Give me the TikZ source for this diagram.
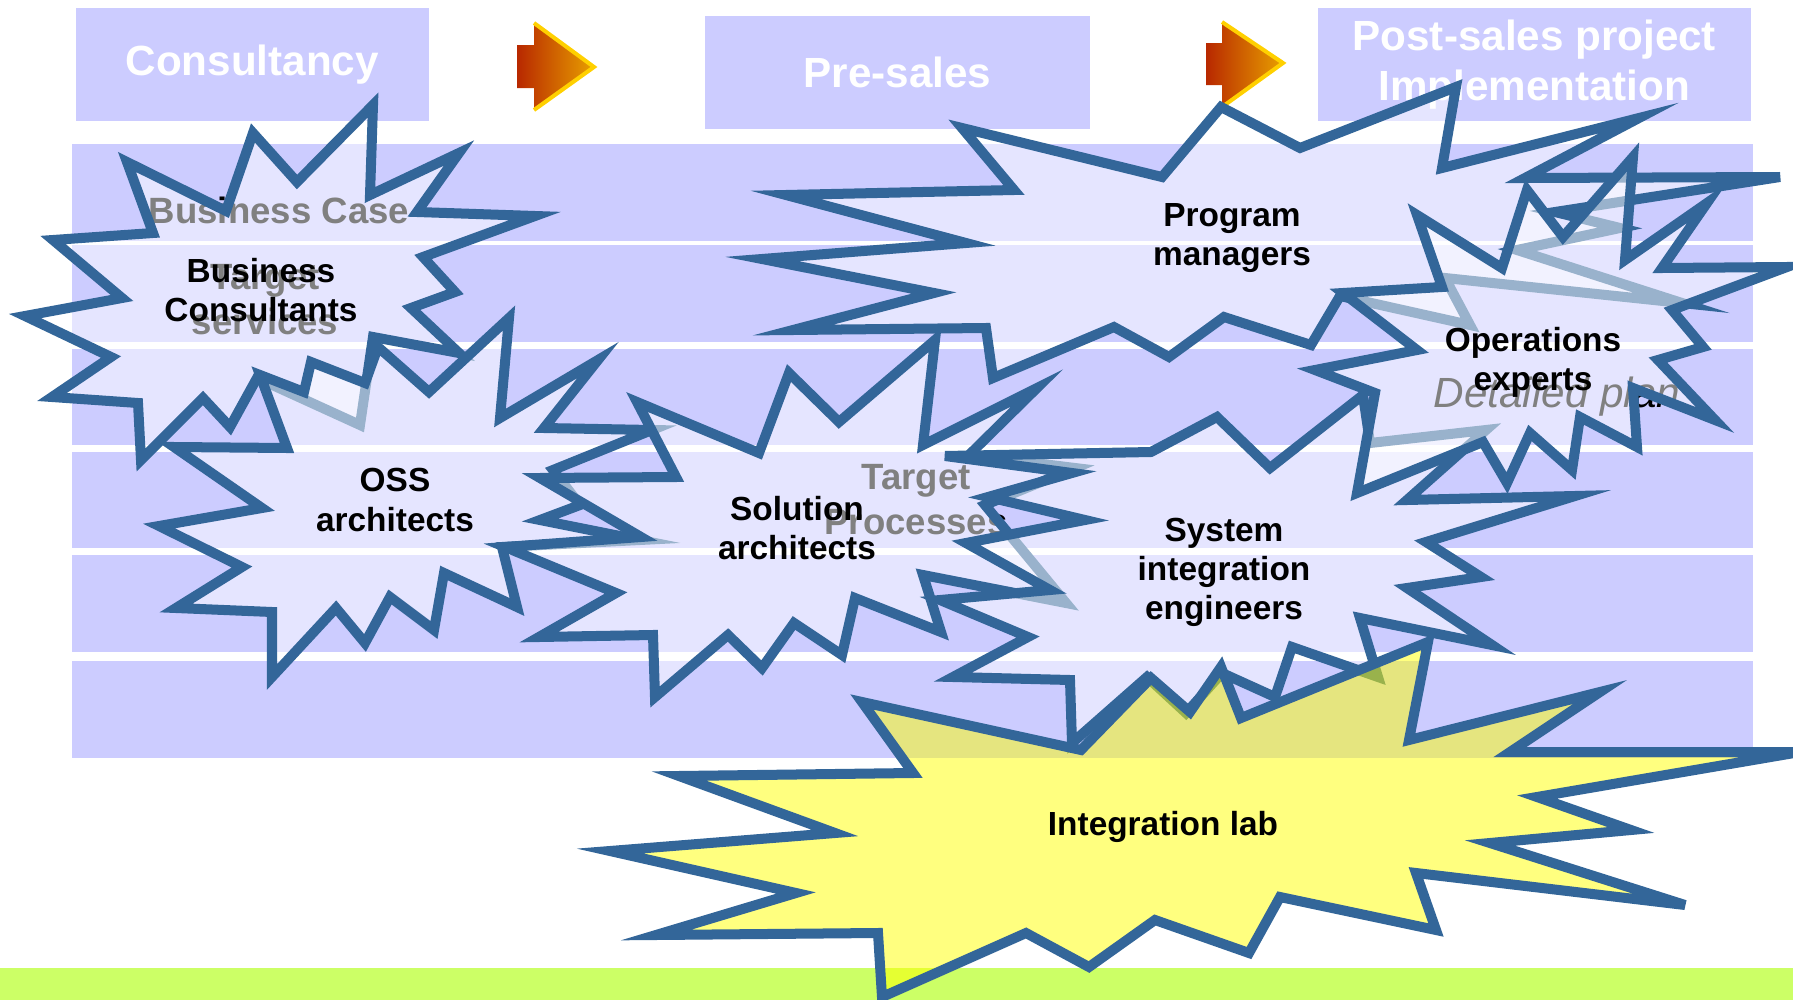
\documentclass[tikz,border=0pt]{standalone}
\usepackage{fontspec}
\setmainfont{Liberation Sans}
\usepackage{xcolor}
\definecolor{bandblue}{HTML}{CCCCFF}
\definecolor{starline}{HTML}{336699}
\definecolor{limeband}{HTML}{CCFF66}
\definecolor{notegrey}{HTML}{000000}
\definecolor{labyellow}{HTML}{FFFF00}
\definecolor{arrowred}{HTML}{B82800}
\definecolor{arrowgold}{HTML}{E8A000}
\definecolor{arrowrim}{HTML}{FFD000}

\begin{document}
\begin{tikzpicture}
		[x=0.01cm, y=-0.01cm,
		band/.style={fill=bandblue},
		phasebox/.style={fill=bandblue, text=white, font=\fontsize{12}{14.2}\selectfont\bfseries, align=center, anchor=north west, inner sep=0pt},
		burst/.style={draw=starline, line width=0.1cm, line join=miter, fill=white, fill opacity=0.5},
		labburst/.style={burst, fill=labyellow},
		role/.style={font=\fontsize{9.5}{11.1}\selectfont\bfseries, align=center, inner sep=0pt},
		bgnote/.style={font=\fontsize{10.4}{12.8}\selectfont\bfseries, text=notegrey, align=center, inner sep=0pt},
		phasearrow/.style={left color=arrowred, right color=arrowgold}]
		\useasboundingbox (0,0) rectangle (1793,1000);
		
		% bands %
		\fill[band] (72,144) rectangle (1753,241);
		\fill[band] (72,245) rectangle (1753,342);
		\fill[band] (72,349) rectangle (1753,445);
		\fill[band] (72,452) rectangle (1753,548);
		\fill[band] (72,555) rectangle (1753,652);
		\fill[band] (72,661) rectangle (1753,758);
		\fill[limeband] (0,968) rectangle (1793,1000);
		
		% phases %
		\node[phasebox, minimum width=3.53cm, minimum height=1.13cm] (consult) at (75,7) {Consultancy};
		\node[phasebox, minimum width=3.85cm, minimum height=1.13cm] (presales) at (704,15) {Pre-sales};
		\node[phasebox, minimum width=4.33cm, minimum height=1.13cm] (postsales) at (1317,7) {Post-sales project\\Implementation};
		
		% phase arrows %
		\shade[phasearrow] (517,45) -- (534,45) -- (534,23) -- (594,67) -- (534,110) -- (534,88) -- (517,88) -- cycle;
		\draw[arrowrim, line width=0.04cm] (534,23) -- (594,67) -- (534,110);
		\shade[phasearrow] (1206,43) -- (1222,43) -- (1222,22) -- (1283,63) -- (1222,107) -- (1222,85) -- (1206,85) -- cycle;
		\draw[arrowrim, line width=0.04cm] (1222,22) -- (1283,63) -- (1222,107);
		
		% notes under the bursts %
		\node[bgnote] (bizcase) at (279,210) {Business Case};
		\node[bgnote] (tgtserv) at (265,300) {Target\\services};
		\node[bgnote] (tgtproc) at (916,500) {Target\\Processes};
		\node[bgnote, font=\fontsize{12}{14}\selectfont\itshape] (detplan) at (1557,397) {Detailed plan};
		
		% bursts %
		\draw[burst] (373,105) -- (370,195) -- (459,153) -- (417,212) -- (535,216) -- (423,257) -- (455,292) -- (411,308) -- (459,353) -- (373,337) -- (360,425) -- (257,378) -- (230,427) -- (203,398) -- (141,460) -- (138,403) -- (52,397) -- (111,357) -- (25,316) -- (122,298) -- (53,240) -- (153,233) -- (127,162) -- (226,211) -- (253,133) -- (297,182) -- cycle;
		\draw[burst] (174,447) -- (287,448) -- (260,375) -- (304,392) -- (311,362) -- (365,383) -- (378,347) -- (429,392) -- (509,318) -- (500,418) -- (598,360) -- (544,428) -- (652,430) -- (553,470) -- (580,505) -- (540,520) -- (640,540) -- (502,547) -- (517,607) -- (444,573) -- (434,630) -- (390,597) -- (365,643) -- (336,608) -- (272,677) -- (272,612) -- (176,608) -- (242,567) -- (159,526) -- (262,508) -- cycle;
		\draw[burst] (637,402) -- (759,453) -- (789,373) -- (839,422) -- (935,340) -- (923,445) -- (1037,388) -- (969,455) -- (1075,468) -- (985,505) -- (1066,603) -- (923,575) -- (941,632) -- (855,598) -- (842,655) -- (794,623) -- (762,668) -- (728,635) -- (655,697) -- (653,635) -- (539,637) -- (616,593) -- (505,547) -- (641,537) -- (540,478) -- (676,477) -- cycle;
		\draw[burst] (962,128) -- (1162,177) -- (1221,107) -- (1300,148) -- (1456,87) -- (1442,168) -- (1639,118) -- (1525,178) -- (1780,177) -- (1555,212) -- (1620,228) -- (1517,250) -- (1682,303) -- (1445,278) -- (1470,325) -- (1340,296) -- (1311,345) -- (1224,317) -- (1169,357) -- (1114,327) -- (993,378) -- (986,328) -- (793,330) -- (934,293) -- (762,259) -- (966,243) -- (786,195) -- (1014,190) -- cycle;
		\draw[burst] (1217,417) -- (1270,468) -- (1363,395) -- (1370,443) -- (1486,430) -- (1407,500) -- (1575,496) -- (1426,542) -- (1481,577) -- (1407,588) -- (1492,645) -- (1360,618) -- (1378,677) -- (1292,647) -- (1275,697) -- (1222,673) -- (1186,713) -- (1147,677) -- (1072,743) -- (1070,680) -- (953,677) -- (1028,637) -- (940,600) -- (1050,590) -- (966,543) -- (1085,520) -- (988,497) -- (1072,473) -- (945,456) -- (1151,452) -- cycle;
		\draw[burst] (1417,215) -- (1502,268) -- (1527,190) -- (1563,237) -- (1633,157) -- (1625,260) -- (1707,203) -- (1662,268) -- (1787,267) -- (1672,310) -- (1703,347) -- (1658,360) -- (1715,420) -- (1633,388) -- (1637,447) -- (1580,417) -- (1572,470) -- (1530,433) -- (1507,483) -- (1483,442) -- (1357,493) -- (1375,393) -- (1315,370) -- (1417,350) -- (1343,293) -- (1442,287) -- cycle;
		\draw[labburst] (862,702) -- (1081,750) -- (1151,678) -- (1190,712) -- (1221,667) -- (1241,718) -- (1428,642) -- (1409,740) -- (1600,692) -- (1510,752) -- (1800,752) -- (1537,797) -- (1631,830) -- (1490,843) -- (1685,905) -- (1416,873) -- (1436,930) -- (1280,897) -- (1249,953) -- (1155,920) -- (1089,967) -- (1026,933) -- (882,997) -- (878,933) -- (656,935) -- (796,893) -- (610,851) -- (835,833) -- (679,776) -- (913,773) -- cycle;
		
		% roles %
		\node[role] (bizcons) at (261,290) {Business\\Consultants};
		\node[role] (ossarch) at (395,500) {OSS\\architects};
		\node[role] (solarch) at (797,528) {Solution\\architects};
		\node[role] (progman) at (1232,238) {Program\\managers};
		\node[role] (opsexp) at (1533,362) {Operations\\experts};
		\node[role] (sysint) at (1224,572) {System\\integration\\engineers};
		\node[role] (intlab) at (1163,827) {Integration lab};
		\end{tikzpicture}
\end{document}
